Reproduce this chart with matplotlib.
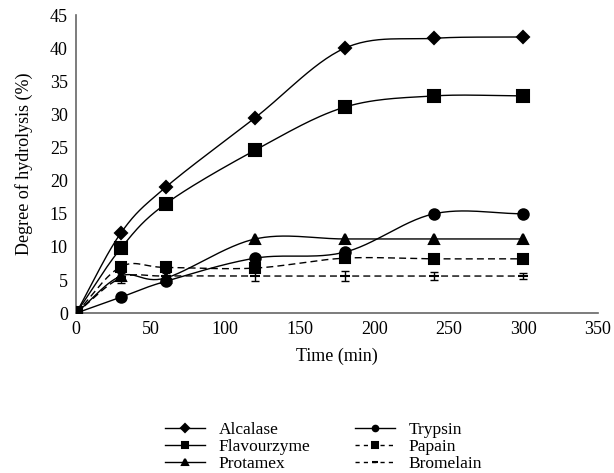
import matplotlib
matplotlib.use("Agg")
import matplotlib.pyplot as plt
import numpy as np

plt.rcParams['font.family'] = ['Liberation Serif', 'DejaVu Serif']

time = [0, 30, 60, 120, 180, 240, 300]
alcalase = [0, 12.1, 19.0, 29.5, 40.0, 41.5, 41.7]
flavourzyme = [0, 9.8, 16.5, 24.6, 31.1, 32.8, 32.8]
protamex = [0, 5.6, 5.3, 11.2, 11.2, 11.2, 11.2]
trypsin = [0, 2.4, 4.8, 8.3, 9.2, 15.0, 15.0]
papain = [0, 7.0, 6.9, 6.8, 8.3, 8.2, 8.2]
bromelain = [0, 5.3, 5.6, 5.6, 5.6, 5.6, 5.6]
bromelain_err = [0, 0.7, 0.5, 0.8, 0.8, 0.6, 0.4]


def smooth(x, y, n=30):
    # catmull-rom style curve, roughly like excel's smoothed lines
    x = np.asarray(x, float)
    y = np.asarray(y, float)
    px = np.concatenate([[2*x[0]-x[1]], x, [2*x[-1]-x[-2]]])
    py = np.concatenate([[2*y[0]-y[1]], y, [2*y[-1]-y[-2]]])
    xs, ys = [], []
    t = np.linspace(0, 1, n)
    for i in range(1, len(px)-2):
        for p, out in ((px, xs), (py, ys)):
            p0, p1, p2, p3 = p[i-1], p[i], p[i+1], p[i+2]
            out.extend(0.5*((2*p1) + (-p0+p2)*t + (2*p0-5*p1+4*p2-p3)*t**2
                            + (-p0+3*p1-3*p2+p3)*t**3))
    return xs, ys


fig = plt.figure(figsize=(6.14, 4.73), dpi=100)
ax = fig.add_axes([0.124, 0.338, 0.850, 0.630])

series = [
    ("Alcalase", alcalase, 'D', '-', 6),
    ("Flavourzyme", flavourzyme, 's', '-', 8),
    ("Protamex", protamex, '^', '-', 7),
    ("Trypsin", trypsin, 'o', '-', 7.5),
    ("Papain", papain, 's', (0, (5, 3)), 7.5),
    ("Bromelain", bromelain, '_', (0, (5, 3)), 7),
]

handles = []
for name, vals, mk, ls, ms in series:
    sx, sy = smooth(time, vals)
    ax.plot(sx, sy, color='black', lw=1.0, ls=ls, zorder=2)
    ax.plot(time, vals, ls='none', marker=mk, ms=ms, color='black',
            mew=1.5, zorder=3)
    h, = ax.plot([], [], color='black', lw=1.0,
                 ls=ls if ls == '-' else (0, (3, 3)), marker=mk,
                 ms=4 if mk != '_' else 5, mew=1.5)
    handles.append(h)

ax.errorbar(time, bromelain, yerr=bromelain_err, fmt='none', ecolor='black',
            elinewidth=1, capsize=3, zorder=3)

ax.set_xlim(0, 350)
ax.set_ylim(0, 45)
ax.set_xticks(range(0, 351, 50))
ax.set_yticks(range(0, 46, 5))
ax.tick_params(length=0, labelsize=13, pad=6)
for s in ['top', 'right']:
    ax.spines[s].set_visible(False)
for s in ['left', 'bottom']:
    ax.spines[s].set_color('#666666')
    ax.spines[s].set_linewidth(1.2)
ax.set_xlabel("Time (min)", fontsize=13, labelpad=7)
ax.set_ylabel("Degree of hydrolysis (%)", fontsize=13, labelpad=12)

legkw = dict(frameon=False, fontsize=12.5, handlelength=2.3, labelspacing=0.05,
             handletextpad=0.8, borderpad=0, borderaxespad=0, loc='upper left')
leg1 = fig.legend(handles[:3], [s[0] for s in series[:3]],
                  bbox_to_anchor=(165/614, 1-422/473), **legkw)
leg2 = fig.legend(handles[3:], [s[0] for s in series[3:]],
                  bbox_to_anchor=(355/614, 1-422/473), **legkw)

fig.savefig("out.png", dpi=100)
